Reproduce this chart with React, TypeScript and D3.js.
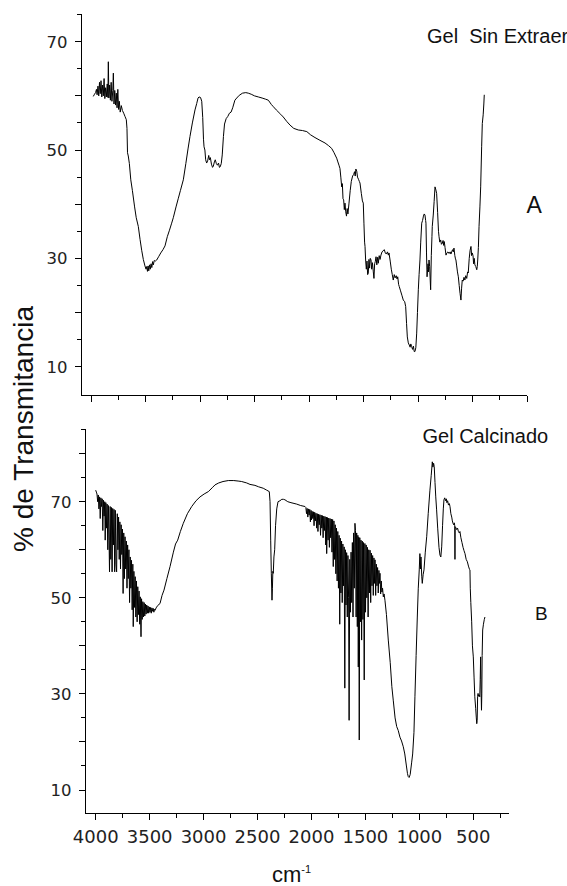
import React from "react";
import * as d3 from "d3";

// Spectrum A: Gel Sin Extraer  [wavenumber cm-1, % transmittance]
const specA: [number, number][] = [
  [3979,59.9],[3968,60.3],[3958,60.6],[3950,61.2],[3944,60.2],[3936,61.8],[3929,60.0],[3922,62.5],[3915,60.4],[3908,62.8],
  [3901,59.8],[3894,62.0],[3887,60.0],[3880,63.2],[3873,59.5],[3866,61.5],[3859,59.8],[3851,62.2],[3845,59.7],[3841,66.3],
  [3836,59.6],[3829,62.0],[3822,59.2],[3815,62.5],[3808,59.0],[3800,61.0],[3795,64.2],[3789,58.5],[3782,61.0],[3775,58.3],
  [3768,60.5],[3761,57.8],[3754,61.2],[3747,57.5],[3740,59.0],[3732,57.0],[3722,58.2],[3712,57.3],[3700,56.8],[3688,56.2],
  [3676,55.6],[3670,54.0],[3665,49.5],[3658,48.9],[3648,47.5],[3635,44.5],[3620,42.5],[3600,39.5],[3585,37.5],[3566,35.9],
  [3550,33.5],[3535,31.5],[3520,29.8],[3505,28.6],[3495,28.0],[3488,28.5],[3482,27.6],[3476,28.6],[3470,27.7],[3463,28.8],
  [3456,28.0],[3449,29.0],[3442,28.3],[3435,29.4],[3428,28.8],[3420,29.6],[3410,29.5],[3397,29.7],[3380,30.3],[3360,31.0],
  [3340,31.6],[3321,32.3],[3300,34.0],[3280,35.2],[3260,36.5],[3245,37.5],[3220,39.5],[3200,41.0],[3180,42.5],[3153,44.5],
  [3130,47.5],[3110,50.2],[3092,52.5],[3070,55.0],[3046,57.4],[3030,58.6],[3018,59.6],[3009,59.8],[2995,59.7],[2984,59.0],
  [2975,56.0],[2968,52.0],[2963,50.6],[2955,50.0],[2948,48.2],[2939,47.6],[2930,48.0],[2920,49.0],[2913,48.2],[2905,48.6],
  [2895,47.4],[2885,46.8],[2878,47.0],[2868,47.8],[2860,48.2],[2850,47.5],[2840,47.2],[2830,47.6],[2822,46.8],[2815,46.9],
  [2805,47.5],[2796,49.1],[2785,52.5],[2775,54.8],[2760,55.8],[2745,56.2],[2730,56.8],[2715,57.0],[2700,57.8],[2680,59.2],
  [2663,59.6],[2640,60.1],[2610,60.5],[2580,60.6],[2557,60.5],[2530,60.3],[2500,60.0],[2465,59.8],[2430,59.6],[2400,59.4],
  [2373,59.2],[2345,58.4],[2327,58.0],[2300,57.4],[2260,56.6],[2236,56.1],[2205,55.3],[2174,54.6],[2140,54.0],[2098,53.7],
  [2060,53.6],[2020,53.4],[1985,52.8],[1945,52.3],[1900,51.8],[1853,51.3],[1820,50.8],[1792,50.3],[1770,49.5],[1756,48.9],
  [1746,48.5],[1735,47.8],[1725,47.2],[1716,46.6],[1708,45.0],[1700,43.2],[1694,43.8],[1688,41.0],[1682,40.8],[1676,39.0],
  [1670,40.2],[1663,38.6],[1656,37.8],[1650,39.2],[1643,38.2],[1633,40.2],[1622,42.5],[1612,44.2],[1600,45.2],[1590,45.5],
  [1582,46.0],[1576,45.2],[1570,46.5],[1562,46.1],[1555,45.0],[1546,44.6],[1538,44.2],[1532,43.9],[1520,42.0],[1510,40.6],
  [1502,40.2],[1496,36.5],[1490,33.0],[1486,32.2],[1480,29.5],[1474,28.0],[1468,29.5],[1462,27.0],[1456,27.3],[1450,29.8],
  [1444,28.2],[1438,30.0],[1431,29.7],[1425,28.0],[1418,29.2],[1410,27.5],[1404,26.3],[1398,29.0],[1392,29.4],[1385,30.3],
  [1378,28.8],[1370,30.2],[1364,29.1],[1356,30.5],[1348,29.8],[1340,30.6],[1330,31.2],[1320,31.4],[1309,31.6],[1300,31.0],
  [1290,30.8],[1280,31.2],[1272,30.6],[1266,31.0],[1255,29.5],[1245,28.0],[1236,27.0],[1227,26.0],[1218,27.0],[1210,26.4],
  [1200,26.8],[1192,26.2],[1186,26.6],[1178,25.2],[1172,24.8],[1160,24.0],[1148,23.2],[1135,22.3],[1122,22.0],[1113,21.1],
  [1105,18.0],[1098,15.5],[1089,14.4],[1080,14.0],[1072,13.6],[1066,14.2],[1058,13.7],[1050,13.2],[1042,13.8],[1035,12.8],
  [1028,12.8],[1020,13.5],[1012,16.2],[1005,20.0],[997,24.2],[990,27.0],[982,29.7],[975,33.0],[966,36.5],[958,37.0],
  [950,37.8],[943,38.2],[936,38.0],[930,37.0],[927,36.5],[922,31.0],[917,26.6],[912,28.0],[908,29.0],[904,27.5],
  [899,29.7],[893,28.5],[888,26.0],[884,24.2],[878,30.5],[872,34.0],[869,35.9],[860,38.0],[852,40.5],[844,43.2],
  [838,42.8],[829,42.0],[820,38.5],[812,35.0],[807,34.0],[800,33.0],[792,33.4],[785,32.6],[777,32.8],[770,33.3],
  [765,32.4],[759,33.1],[752,32.0],[743,30.6],[735,31.0],[725,31.2],[715,30.9],[705,31.2],[698,30.8],[691,31.2],
  [683,31.6],[676,31.2],[670,31.9],[662,30.5],[656,29.9],[652,29.7],[645,28.6],[638,27.5],[630,26.6],[622,25.0],
  [614,23.5],[606,22.3],[600,24.5],[594,26.0],[586,25.8],[578,26.5],[570,26.0],[562,26.8],[553,26.3],[545,27.5],
  [539,27.3],[530,30.0],[522,31.5],[514,32.2],[508,30.5],[502,31.0],[495,30.5],[490,29.0],[484,30.0],[478,28.8],
  [470,28.5],[461,27.9],[456,28.5],[452,29.7],[446,32.0],[440,35.9],[432,39.5],[425,43.2],[416,50.6],[410,54.9],
  [402,56.5],[396,58.5],[392,60.2],
];

// Spectrum B: Gel Calcinado  [wavenumber cm-1, % transmittance]
const specB: [number, number][] = [
  [4000,72.4],[3994,72.0],[3988,71.6],[3982,70.0],[3976,71.4],[3970,68.5],[3964,71.0],[3958,66.5],[3952,70.8],[3946,69.0],
  [3940,70.6],[3934,64.0],[3928,70.3],[3922,67.0],[3916,70.0],[3912,62.0],[3906,69.8],[3900,64.5],[3894,69.5],[3888,60.0],
  [3882,69.2],[3876,62.0],[3872,55.4],[3866,69.0],[3860,58.0],[3854,68.8],[3848,55.4],[3842,68.6],[3836,61.0],[3830,68.4],
  [3824,55.4],[3818,68.2],[3812,57.0],[3806,55.4],[3800,67.5],[3794,60.0],[3788,66.8],[3782,58.0],[3776,65.8],[3770,56.0],
  [3764,65.2],[3758,59.0],[3752,64.3],[3746,50.9],[3740,63.5],[3734,54.0],[3728,62.7],[3722,56.0],[3716,61.8],[3710,52.0],
  [3704,61.0],[3698,54.0],[3692,60.0],[3686,49.0],[3680,58.5],[3674,52.0],[3668,57.8],[3662,47.5],[3656,57.0],[3652,44.0],
  [3646,55.5],[3640,48.0],[3634,54.4],[3628,46.0],[3622,53.5],[3616,45.0],[3610,52.3],[3604,46.5],[3598,51.4],[3592,44.5],
  [3587,50.2],[3580,41.9],[3575,49.8],[3569,45.5],[3563,49.2],[3557,46.0],[3551,49.0],[3545,46.2],[3539,48.7],[3533,46.6],
  [3527,48.5],[3521,46.8],[3515,48.3],[3509,46.8],[3503,48.1],[3497,47.0],[3491,48.0],[3485,46.8],[3479,47.9],[3473,47.2],
  [3467,47.8],[3461,47.0],[3455,47.6],[3450,47.4],[3440,47.9],[3425,48.4],[3404,48.8],[3385,50.5],[3367,51.6],[3340,54.0],
  [3311,56.5],[3280,59.5],[3260,61.2],[3240,62.0],[3215,63.8],[3188,65.5],[3150,67.5],[3110,69.0],[3070,70.2],[3033,71.0],
  [2995,71.6],[2956,72.1],[2920,72.9],[2894,73.5],[2860,73.9],[2820,74.2],[2771,74.4],[2720,74.4],[2680,74.3],[2647,74.2],
  [2600,73.9],[2570,73.6],[2524,73.4],[2490,73.1],[2447,72.8],[2415,72.4],[2391,72.1],[2384,70.0],[2378,62.0],[2372,55.0],
  [2366,49.5],[2362,52.0],[2358,55.5],[2354,55.1],[2348,58.5],[2341,60.0],[2333,65.0],[2322,68.5],[2310,70.0],[2292,70.2],
  [2275,70.5],[2260,70.5],[2246,70.4],[2220,70.0],[2190,69.8],[2137,69.5],[2100,69.2],[2060,69.0],
  [2052,68.8],[2046,67.5],[2040,68.6],[2034,66.8],[2028,68.5],[2022,67.2],[2016,68.4],[2010,65.8],[2004,68.2],[2000,66.2],
  [1994,68.0],[1988,66.5],[1982,67.9],[1976,65.0],[1970,67.8],[1964,66.0],[1958,67.6],[1952,64.5],[1946,67.5],[1940,63.8],
  [1934,67.4],[1928,65.2],[1922,67.3],[1916,63.0],[1910,67.2],[1904,64.5],[1898,67.1],[1892,62.5],[1886,67.0],[1880,64.0],
  [1874,66.9],[1868,61.0],[1862,66.8],[1859,59.2],[1852,66.7],[1846,62.0],[1840,66.6],[1834,60.5],[1828,66.5],[1822,62.5],
  [1816,66.4],[1810,59.5],[1804,66.3],[1798,56.5],[1792,66.0],[1786,58.0],[1780,65.2],[1774,55.0],[1768,64.5],[1762,53.5],
  [1756,63.8],[1750,52.0],[1744,63.0],[1738,44.5],[1733,62.4],[1727,51.0],[1721,61.8],[1715,49.0],[1709,61.2],[1703,52.5],
  [1697,60.6],[1691,31.2],[1686,60.0],[1680,48.5],[1674,59.4],[1668,46.0],[1662,58.8],[1656,50.0],[1651,24.5],[1645,58.0],
  [1639,47.0],[1633,59.5],[1627,49.0],[1621,61.5],[1615,46.0],[1609,63.5],[1603,52.0],[1597,65.5],[1592,64.0],[1586,46.0],
  [1581,63.5],[1575,44.0],[1570,63.0],[1566,35.6],[1562,62.6],[1557,20.4],[1552,62.5],[1546,45.0],[1541,62.0],[1535,41.2],
  [1529,61.8],[1523,45.5],[1518,61.5],[1511,32.9],[1505,61.3],[1499,47.0],[1493,61.0],[1487,50.0],[1481,60.5],[1475,46.0],
  [1469,60.0],[1463,51.0],[1457,59.9],[1451,49.0],[1445,59.3],[1439,52.5],[1433,58.8],[1427,50.5],[1421,58.3],[1415,53.0],
  [1411,57.9],[1405,50.5],[1399,57.0],[1393,52.5],[1387,56.3],[1381,51.0],[1375,55.7],[1369,53.0],[1365,55.1],[1359,50.8],
  [1353,53.5],[1347,51.2],[1341,52.0],[1334,50.2],[1327,50.8],[1319,49.5],[1305,46.5],[1288,41.2],[1270,36.5],[1255,31.5],
  [1242,28.7],[1225,25.0],[1210,23.2],[1196,22.4],[1180,21.0],[1165,20.2],[1149,19.0],[1135,17.5],[1120,15.0],[1110,13.4],
  [1103,12.8],[1095,12.6],[1085,13.2],[1071,15.8],[1062,17.5],[1050,22.0],[1041,29.4],[1030,38.0],[1019,46.0],[1010,52.0],
  [1001,55.8],[995,59.2],[990,56.0],[985,58.5],[978,54.5],[973,53.0],[965,54.8],[957,55.8],[945,59.5],[932,62.7],
  [918,67.5],[902,72.4],[890,75.5],[880,78.3],[874,77.2],[868,78.0],[862,77.3],[855,74.0],[848,71.0],[840,68.3],
  [830,64.5],[818,60.5],[809,58.9],[801,58.5],[793,60.6],[785,65.0],[778,68.5],[772,70.4],[765,70.8],[757,70.2],
  [750,70.6],[745,69.8],[738,70.2],[730,69.3],[722,69.6],[716,69.0],[708,67.5],[700,66.8],[694,66.0],[688,65.5],
  [682,65.2],[676,65.6],[672,65.0],[670,58.0],[668,64.8],[662,64.6],[654,64.2],[646,64.5],[638,63.8],[630,63.5],
  [624,63.8],[615,62.5],[605,61.5],[595,60.5],[586,59.8],[577,59.2],[566,58.0],[555,57.5],[545,56.6],[535,55.9],
  [531,55.8],[528,52.0],[523,49.0],[515,45.0],[508,40.0],[500,37.7],[493,33.5],[486,29.4],[478,27.0],[472,25.0],
  [468,23.8],[464,24.5],[460,29.5],[456,30.1],[451,29.5],[445,29.8],[440,29.4],[436,33.0],[432,37.7],[428,31.0],
  [424,26.6],[421,30.0],[418,38.0],[413,43.3],[406,44.5],[398,45.5],[392,46.0],
];

const xTickLabels = [4000, 3500, 3000, 2500, 2000, 1500, 1000, 500];
const yTickLabels = [10, 30, 50, 70];
const panelTitles = ["Gel  Sin Extraer", "Gel Calcinado"];
const panelLetters = ["A", "B"];
const yAxisTitle = "% de Transmitancia";
const xAxisTitle = "cm";
const xAxisSup = "-1";

type Panel = {
  data: [number, number][];
  x: d3.ScaleLinear<number, number>;
  y: d3.ScaleLinear<number, number>;
  axisX: number;
  axisY: number;
  axisEnd: number;
  yMax: number;
  xTicks: number[];
  showXLabels: boolean;
  title: string;
  titlePos: [number, number];
  letter: string;
  letterPos: [number, number];
  letterSize: number;
};

const TICK_FONT = "'DejaVu Sans', Verdana, sans-serif";
const LABEL_FONT = "'Liberation Sans', Arial, sans-serif";

function PanelView({ p }: { p: Panel }) {
  const line = d3
    .line<[number, number]>()
    .x((d) => p.x(d[0]))
    .y((d) => p.y(d[1]));
  const yTicks = d3.range(10, p.yMax + 0.1, 5);
  return (
    <g>
      <path d={line(p.data) || ""} fill="none" stroke="#000" strokeWidth={1} strokeLinejoin="round" />
      <line x1={p.axisX} x2={p.axisX} y1={p.y(p.yMax)} y2={p.axisY} stroke="#000" strokeWidth={1} shapeRendering="crispEdges" />
      {yTicks.map((t) => (
        <line
          key={"yt" + t}
          x1={p.axisX - (t % 10 === 0 ? 7 : 5)}
          x2={p.axisX}
          y1={p.y(t)}
          y2={p.y(t)}
          stroke="#000"
          strokeWidth={1}
          shapeRendering="crispEdges"
        />
      ))}
      {yTickLabels.map((t) => (
        <text
          key={"yl" + t}
          x={p.axisX - 14}
          y={p.y(t)}
          dy="0.36em"
          textAnchor="end"
          fontFamily={TICK_FONT}
          fontSize={16.5}
          fill="#222"
        >
          {t}
        </text>
      ))}
      <line x1={p.axisX} x2={p.axisEnd} y1={p.axisY} y2={p.axisY} stroke="#000" strokeWidth={1} shapeRendering="crispEdges" />
      {p.xTicks.map((t) => (
        <line
          key={"xt" + t}
          x1={p.x(t)}
          x2={p.x(t)}
          y1={p.axisY}
          y2={p.axisY + (t % 500 === 0 ? 6 : 4)}
          stroke="#000"
          strokeWidth={1}
          shapeRendering="crispEdges"
        />
      ))}
      {p.showXLabels &&
        xTickLabels.map((t) => (
          <text
            key={"xl" + t}
            x={p.x(t)}
            y={p.axisY + 29}
            textAnchor="middle"
            fontFamily={TICK_FONT}
            fontSize={18}
            fill="#222"
          >
            {t}
          </text>
        ))}
      <text x={p.titlePos[0]} y={p.titlePos[1]} fontFamily={LABEL_FONT} fontSize={20} fill="#111" style={{ whiteSpace: "pre" }}>
        {p.title}
      </text>
      <text x={p.letterPos[0]} y={p.letterPos[1]} fontFamily={LABEL_FONT} fontSize={p.letterSize} fill="#111">
        {p.letter}
      </text>
    </g>
  );
}

export default function App() {
  const W = 567;
  const H = 886;

  const panelA: Panel = {
    data: specA,
    x: d3.scaleLinear().domain([4000, 0]).range([91, 527]),
    y: d3.scaleLinear().domain([10, 70]).range([366.7, 41.7]),
    axisX: 81.5,
    axisY: 395.5,
    axisEnd: 527,
    yMax: 75,
    xTicks: d3.range(0, 4001, 250),
    showXLabels: false,
    title: panelTitles[0],
    titlePos: [427, 43],
    letter: panelLetters[0],
    letterPos: [526.5, 213],
    letterSize: 23,
  };

  const panelB: Panel = {
    data: specB,
    x: d3.scaleLinear().domain([4000, 500]).range([95.7, 473.3]),
    y: d3.scaleLinear().domain([10, 70]).range([790, 501.7]),
    axisX: 85.5,
    axisY: 813.5,
    axisEnd: 509,
    yMax: 85,
    xTicks: d3.range(250, 4001, 250),
    showXLabels: true,
    title: panelTitles[1],
    titlePos: [422.5, 443],
    letter: panelLetters[1],
    letterPos: [535, 620],
    letterSize: 19,
  };

  return (
    <svg
      width={W}
      height={H}
      viewBox={`0 0 ${W} ${H}`}
      style={{ position: "absolute", left: 0, top: 0, background: "#fff", overflow: "hidden" }}
    >
      <rect x={0} y={0} width={W} height={H} fill="#fff" />
      <PanelView p={panelA} />
      <PanelView p={panelB} />
      <text
        transform="translate(33,429) rotate(-90)"
        textAnchor="middle"
        fontFamily={LABEL_FONT}
        fontSize={28}
        fill="#111"
      >
        {yAxisTitle}
      </text>
      <text x={272} y={882} fontFamily={LABEL_FONT} fontSize={22} fill="#111">
        {xAxisTitle}
        <tspan fontSize={11} dy={-9}>
          {xAxisSup}
        </tspan>
      </text>
    </svg>
  );
}
